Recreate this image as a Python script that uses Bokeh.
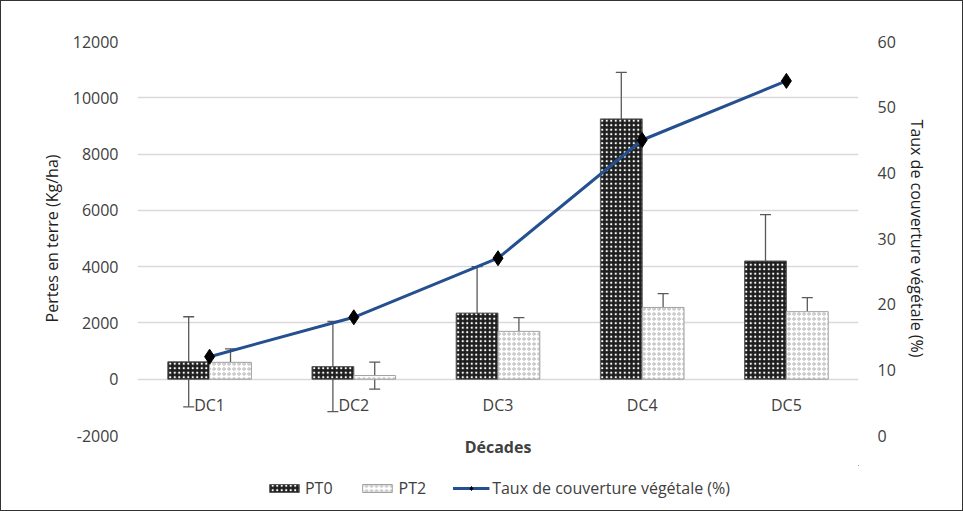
from bokeh.plotting import figure
from bokeh.layouts import column
from bokeh.models import (Range1d, LinearAxis, FixedTicker, Whisker, ColumnDataSource,
                          Legend, LegendItem, TeeHead, PrintfTickFormatter)
from bokeh.transform import dodge
from bokeh.core.properties import value
from bokeh.embed import file_html
from bokeh.resources import INLINE

# ---- data ----
categories = ["DC1", "DC2", "DC3", "DC4", "DC5"]
pt0 = [620, 450, 2350, 9250, 4200]
pt0_err = [1600, 1600, 1650, 1650, 1650]
pt2 = [600, 130, 1700, 2550, 2400]
pt2_err = [480, 480, 490, 490, 500]
taux = [12, 18, 27, 45, 54]
left_ticks = [-2000, 0, 2000, 4000, 6000, 8000, 10000, 12000]
right_ticks = [0, 10, 20, 30, 40, 50, 60]
series_names = ["PT0", "PT2", "Taux de couverture végétale (%)"]

FONT = "Open Sans"
TXT = "#404040"
FS = "16px"

PT0_STYLE = dict(fill_color="#1e1e1e", line_color="#5a5a5a", line_width=1,
                 hatch_pattern="dot", hatch_color="white", hatch_scale=4.5, hatch_weight=2.5)
PT2_STYLE = dict(fill_color="white", line_color="#a0a0a0", line_width=1,
                 hatch_pattern="ring", hatch_color="#b4b4b4", hatch_scale=5, hatch_weight=1)
LINE_STYLE = dict(line_color="#24508f", line_width=3)
MK_STYLE = dict(marker="diamond", size=15, fill_color="black", line_color="black")

src = ColumnDataSource(dict(
    cat=categories,
    pt0=pt0, pt2=pt2, taux=taux,
    zero=[0] * len(categories),
    pt0_up=[v + e for v, e in zip(pt0, pt0_err)],
    pt0_lo=[v - e for v, e in zip(pt0, pt0_err)],
    pt2_up=[v + e for v, e in zip(pt2, pt2_err)],
    pt2_lo=[v - e for v, e in zip(pt2, pt2_err)],
))

p = figure(x_range=categories, y_range=Range1d(-2000, 12000), width=961, height=464,
           output_backend="svg", toolbar_location=None,
           min_border_left=136, min_border_right=104, min_border_top=40, min_border_bottom=30)
p.outline_line_color = None
p.background_fill_color = "white"

p.extra_y_ranges = {"taux": Range1d(0, 60)}

W = 0.29
p.vbar(x=dodge("cat", -W / 2, range=p.x_range), top="pt0", bottom=0, width=W, source=src, **PT0_STYLE)
p.vbar(x=dodge("cat", W / 2, range=p.x_range), top="pt2", bottom=0, width=W, source=src, **PT2_STYLE)

for base_off, up, lo in [(-W / 2, "pt0_up", "pt0_lo"), (W / 2, "pt2_up", "pt2_lo")]:
    wk = Whisker(source=src, base=dodge("cat", base_off, range=p.x_range), upper=up, lower=lo,
                 line_color="#595959", line_width=1.3,
                 upper_head=TeeHead(size=11, line_color="#595959", line_width=1.3),
                 lower_head=TeeHead(size=11, line_color="#595959", line_width=1.3))
    p.add_layout(wk)

p.line(x="cat", y="taux", source=src, y_range_name="taux", **LINE_STYLE)
p.scatter(x="cat", y="taux", source=src, y_range_name="taux", **MK_STYLE)

# category labels at the zero line
p.text(x="cat", y="zero", text="cat", source=src, text_align="center", text_baseline="top",
       y_offset=15, text_font=value(FONT), text_font_size=FS, text_color=TXT)

# axes
p.xaxis.axis_label = "Décades"
p.xaxis.axis_label_text_font = FONT
p.xaxis.axis_label_text_font_style = "bold"
p.xaxis.axis_label_text_font_size = FS
p.xaxis.axis_label_text_color = TXT
p.xaxis.major_label_text_font_size = "0px"
p.xaxis.axis_line_color = None
p.xaxis.major_tick_line_color = None
p.xaxis.minor_tick_line_color = None
p.xaxis.major_tick_out = 0
p.xaxis.axis_label_standoff = 0
p.xaxis.major_label_standoff = 0

yl = p.yaxis[0]
yl.ticker = FixedTicker(ticks=left_ticks)
yl.formatter = PrintfTickFormatter(format="%d")
yl.axis_label = "Pertes en terre (Kg/ha)"

yr = LinearAxis(y_range_name="taux", ticker=FixedTicker(ticks=right_ticks),
                formatter=PrintfTickFormatter(format="%d"),
                axis_label="Taux de couverture végétale (%)")
p.add_layout(yr, "right")

for ax in (yl, yr):
    ax.axis_line_color = None
    ax.major_tick_line_color = None
    ax.minor_tick_line_color = None
    ax.major_tick_out = 0
    ax.minor_tick_out = 0
    ax.major_label_text_font = FONT
    ax.major_label_text_font_size = FS
    ax.major_label_text_color = TXT
    ax.axis_label_text_font = FONT
    ax.axis_label_text_font_style = "normal"
    ax.axis_label_text_font_size = FS
    ax.axis_label_text_color = "#202020"
    ax.major_label_standoff = 19
    ax.axis_label_standoff = 7

p.xgrid.grid_line_color = None
p.ygrid.ticker = FixedTicker(ticks=left_ticks)
p.ygrid.grid_line_color = "#d9d9d9"
p.ygrid.grid_line_width = 1.3

# ---- legend strip (separate small figure; its series lie far outside its canvas) ----
lg = figure(width=961, height=45, x_range=Range1d(-40000, -30000), y_range=Range1d(-40000, -30000),
            output_backend="svg", toolbar_location=None,
            x_axis_location=None, y_axis_location=None,
            min_border_left=0, min_border_right=0, min_border_top=0, min_border_bottom=0)
lg.outline_line_color = None
lg.xgrid.grid_line_color = None
lg.ygrid.grid_line_color = None
r0 = lg.vbar(x="pt0", top="pt0", bottom=0, width=W, source=src, **PT0_STYLE)
r2 = lg.vbar(x="pt2", top="pt2", bottom=0, width=W, source=src, **PT2_STYLE)
rl = lg.line(x="pt0", y="taux", source=src, **LINE_STYLE)
rm = lg.scatter(x="pt0", y="taux", source=src, **MK_STYLE)

legend = Legend(items=[
    LegendItem(label=series_names[0], renderers=[r0]),
    LegendItem(label=series_names[1], renderers=[r2]),
    LegendItem(label=series_names[2], renderers=[rl, rm]),
], orientation="horizontal", location="center",
    label_text_font=FONT, label_text_font_size=FS, label_text_color=TXT,
    border_line_color=None, background_fill_alpha=0, spacing=26,
    glyph_width=37, glyph_height=10, label_standoff=3, padding=2, margin=0)
lg.add_layout(legend)

layout = column(p, lg, spacing=0, styles={"border": "1px solid #333333"})
open("out.html", "w").write(file_html(layout, INLINE))
